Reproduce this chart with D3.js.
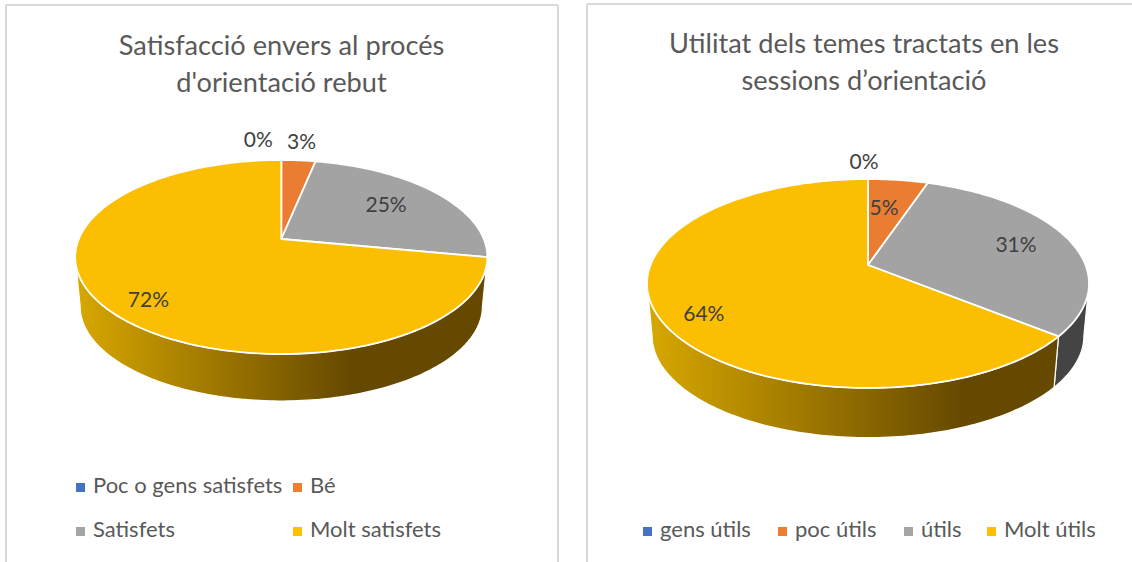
<!DOCTYPE html>
<html>
<head>
<meta charset="utf-8">
<script src="https://cdn.jsdelivr.net/npm/d3@7"></script>
<style>
  html, body { margin: 0; padding: 0; background: #fff; }
  svg { display: block; }
  text { font-family: Lato, "Open Sans", sans-serif; }
</style>
</head>
<body>
<div id="graph-container"></div>
<script>
const satisfactionCategories = ["Poc o gens satisfets", "Bé", "Satisfets", "Molt satisfets"];
const satisfactionValues = [0, 3.2, 24.8, 72];
const satisfactionTitle = ["Satisfacció envers al procés", "d'orientació rebut"];

const usefulnessCategories = ["gens útils", "poc útils", "útils", "Molt útils"];
const usefulnessValues = [0, 5.2, 30.6, 64.2];
const usefulnessTitle = ["Utilitat dels temes tractats en les", "sessions d’orientació"];

const sliceColors = ["#4472c4", "#ed7d31", "#a5a5a5", "#ffc000"];
const topColors = ["#4472c4", "#ea7d31", "#a3a3a3", "#fbbe00"];
const wallColors = ["#2a4478", "#8c4a1d", "#444444", "url(#wall-ID)"];

const width = 1132;
const height = 562;

const svg = d3
  .select("#graph-container")
  .append("svg")
  .attr("width", width)
  .attr("height", height);

//panel borders
const borders = [
  [6, 562, 6, 5],
  [6, 5, 558, 5],
  [558, 5, 558, 562],
  [587, 562, 587, 4],
  [587, 4, 1132, 4],
];
svg
  .selectAll("line.border")
  .data(borders)
  .enter()
  .append("line")
  .attr("class", "border")
  .attr("x1", (d) => d[0])
  .attr("y1", (d) => d[1])
  .attr("x2", (d) => d[2])
  .attr("y2", (d) => d[3])
  .attr("stroke", "#d9d9d9")
  .attr("stroke-width", 2);

function drawPie(cfg) {
  const g = svg.append("g");
  const color = d3.scaleOrdinal().domain(cfg.categories).range(topColors);
  const wall = d3
    .scaleOrdinal()
    .domain(cfg.categories)
    .range(wallColors.map((c) => c.replace("ID", cfg.id)));

  const pie = d3.pie().sort(null).startAngle(0).endAngle(2 * Math.PI);
  const arcs = pie(cfg.values).map((d, i) => ({ ...d, name: cfg.categories[i] }));

  //tilted disc: circle points go through a perspective division
  function project(angle, r, lower) {
    const w = 1 + cfg.persp * r * Math.cos(angle);
    const x = (cfg.radiusX * r * Math.sin(angle)) / w;
    const y = (-cfg.radiusY * r * Math.cos(angle)) / w;
    if (lower) return [cfg.cx + x * cfg.shrink, cfg.cy + y * cfg.shrink + cfg.depth];
    return [cfg.cx + x, cfg.cy + y];
  }

  const line = d3.line();
  const edge = (a0, a1, lower) => {
    const n = Math.max(2, Math.ceil((a1 - a0) / 0.02));
    return d3.range(n + 1).map((i) => project(a0 + ((a1 - a0) * i) / n, 1, lower));
  };

  const grad = svg
    .append("linearGradient")
    .attr("id", "wall-" + cfg.id)
    .attr("gradientUnits", "userSpaceOnUse")
    .attr("x1", cfg.gradFrom)
    .attr("x2", cfg.gradTo)
    .attr("y1", 0)
    .attr("y2", 0);
  grad.append("stop").attr("offset", 0).attr("stop-color", "#d6a600");
  grad.append("stop").attr("offset", 1).attr("stop-color", "#664900");

  //only the front of the rim is visible, between the two widest points
  const frontStart = Math.acos(-cfg.persp);
  const frontEnd = 2 * Math.PI - frontStart;
  const walls = arcs
    .map((d) => ({
      name: d.name,
      a0: Math.max(d.startAngle, frontStart),
      a1: Math.min(d.endAngle, frontEnd),
    }))
    .filter((d) => d.a1 > d.a0);

  //side walls
  g.selectAll("path.wall")
    .data(walls)
    .enter()
    .append("path")
    .attr("class", "wall")
    .attr("fill", (d) => wall(d.name))
    .attr("stroke", "#fff")
    .attr("stroke-width", 1.2)
    .attr("d", (d) =>
      line([...edge(d.a0, d.a1, false), ...edge(d.a0, d.a1, true).reverse()]) + "Z",
    );

  //top of the disc
  g.selectAll("path.slice")
    .data(arcs)
    .enter()
    .append("path")
    .attr("class", "slice")
    .attr("fill", (d) => color(d.name))
    .attr("stroke", "#fff")
    .attr("stroke-width", 1.8)
    .attr("stroke-linejoin", "round")
    .attr("d", (d) =>
      line([[cfg.cx, cfg.cy], ...edge(d.startAngle, d.endAngle, false)]) + "Z",
    );

  //data labels
  g.selectAll("text.label")
    .data(arcs)
    .enter()
    .append("text")
    .attr("class", "label")
    .attr("text-anchor", "middle")
    .attr("font-size", 21)
    .attr("fill", "#404040")
    .attr("x", (d, i) => project((d.startAngle + d.endAngle) / 2, cfg.labelR[i])[0] + cfg.labelNudge[i][0])
    .attr("y", (d, i) => project((d.startAngle + d.endAngle) / 2, cfg.labelR[i])[1] + cfg.labelNudge[i][1] + 7)
    .text((d) => Math.round(d.value) + "%");

  //title
  g.selectAll("text.title")
    .data(cfg.title)
    .enter()
    .append("text")
    .attr("class", "title")
    .attr("text-anchor", "middle")
    .attr("font-size", 27.2)
    .attr("fill", "#595959")
    .attr("x", cfg.titleX)
    .attr("y", (d, i) => cfg.titleY + i * 36.5)
    .text((d) => d);

  //legend
  const legend = g
    .selectAll("g.legend")
    .data(cfg.categories)
    .enter()
    .append("g")
    .attr("class", "legend")
    .attr("transform", (d, i) => `translate(${cfg.legend[i][0]},${cfg.legend[i][1]})`);
  legend
    .append("rect")
    .attr("x", 0)
    .attr("y", -9)
    .attr("width", 9)
    .attr("height", 9)
    .attr("fill", (d, i) => sliceColors[i]);
  legend
    .append("text")
    .attr("x", cfg.legendTextX)
    .attr("y", 0)
    .attr("dy", 1)
    .attr("font-size", 22)
    .attr("fill", "#595959")
    .text((d) => d);
}

drawPie({
  id: "a",
  categories: satisfactionCategories,
  values: satisfactionValues,
  title: satisfactionTitle,
  titleX: 281.5,
  titleY: 55,
  cx: 281.3,
  cy: 239,
  radiusX: 202.5,
  radiusY: 93.7,
  persp: 0.1856,
  shrink: 0.976,
  depth: 49.7,
  gradFrom: 80,
  gradTo: 350,
  labelR: [1.15, 1.15, 0.7, 0.8],
  labelNudge: [[-23, -10], [1, -8.5], [-5, 0.5], [5, 8]],
  legend: [[76, 492], [293, 492], [76, 536], [293, 536]],
  legendTextX: 17,
});

drawPie({
  id: "b",
  categories: usefulnessCategories,
  values: usefulnessValues,
  title: usefulnessTitle,
  titleX: 864,
  titleY: 53,
  cx: 868,
  cy: 265,
  radiusX: 217.5,
  radiusY: 101.2,
  persp: 0.177,
  shrink: 0.977,
  depth: 52.5,
  gradFrom: 652,
  gradTo: 963,
  labelR: [1.15, 0.7, 0.75, 0.8],
  labelNudge: [[-4, -6], [-6, 5], [-3, 0], [3, 12]],
  legend: [[643, 536], [778, 536], [904, 536], [987, 536]],
  legendTextX: 17,
});
</script>
</body>
</html>
